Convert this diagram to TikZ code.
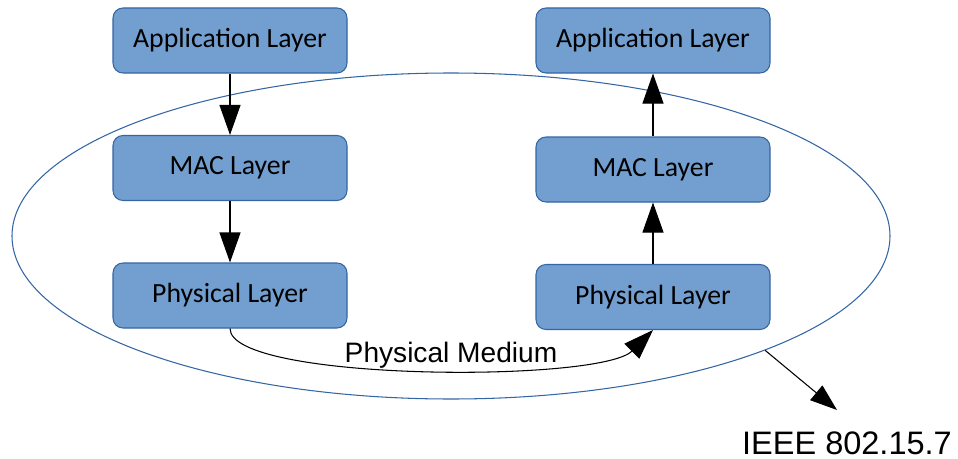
\documentclass[tikz,border=0pt]{standalone}
\usepackage{fontspec}
\setmainfont{Liberation Sans}
\newfontfamily\boxfont{Carlito}
\usetikzlibrary{arrows.meta,shapes.geometric}
\definecolor{layerfill}{HTML}{729FCF}
\definecolor{layerline}{HTML}{3465A4}
\tikzset{
  layer/.style={draw=layerline, fill=layerfill, rounded corners=0.2cm, line width=0.6pt,
    minimum width=4.68cm, minimum height=1.3cm, font=\boxfont\fontsize{15.8}{18}\selectfont},
  flow/.style={line width=0.6pt, -{Triangle[length=0.6cm,width=0.42cm]}}
}
\begin{document}
\begin{tikzpicture}
\useasboundingbox (0,0) rectangle (19.16,-9.18);
\node[ellipse, draw=layerline, line width=0.6pt, minimum width=17.56cm, minimum height=6.52cm, inner sep=0pt] (group) at (9.02 cm,-4.72 cm) {};
\node[layer] (lapp) at (4.6 cm,-0.81 cm) {Application Layer};
\node[layer] (lmac) at (4.6 cm,-3.36 cm) {MAC Layer};
\node[layer] (lphy) at (4.6 cm,-5.91 cm) {Physical Layer};
\node[layer] (rapp) at (13.06 cm,-0.81 cm) {Application Layer};
\node[layer] (rmac) at (13.06 cm,-3.39 cm) {MAC Layer};
\node[layer] (rphy) at (13.06 cm,-5.94 cm) {Physical Layer};
\node[font=\fontsize{16}{19}\selectfont] (medium) at (9.02 cm,-7.1 cm) {Physical Medium};
\node[font=\fontsize{18.5}{22}\selectfont] (ieee) at (16.94 cm,-8.86 cm) {IEEE 802.15.7};
\coordinate (ieeetip) at (16.74 cm,-8.2 cm);
\draw[flow] (lapp) -- (lmac);
\draw[flow] (lmac) -- (lphy);
\draw[flow] (rphy) -- (rmac);
\draw[flow] (rmac) -- (rapp);
\draw[flow] (lphy.south) .. controls +(0,-1.06) and +(-1.06,-1.06) .. (rphy.south);
\draw[line width=0.6pt, -{Triangle[length=0.54cm,width=0.38cm]}] (group.-20) -- (ieeetip);
\end{tikzpicture}
\end{document}
